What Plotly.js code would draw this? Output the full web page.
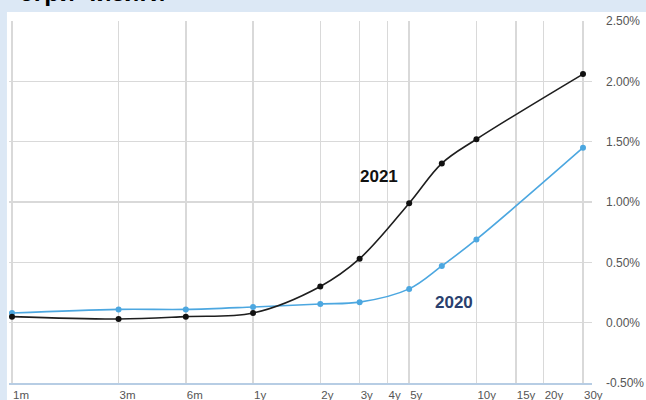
<!DOCTYPE html>
<html>
<head>
<meta charset="utf-8">
<script src="https://cdn.plot.ly/plotly-3.0.1.min.js"></script>
<style>html,body{margin:0;padding:0;background:#dce8f5;}#chart{width:646px;height:400px;}</style>
</head>
<body>
<div id="chart"></div>
<script>
// maturities in months
const maturities = [1, 3, 6, 12, 24, 36, 60, 84, 120, 360];
const yields2021 = [0.05, 0.03, 0.05, 0.08, 0.30, 0.53, 0.99, 1.32, 1.52, 2.06];
const yields2020 = [0.08, 0.11, 0.11, 0.13, 0.155, 0.17, 0.28, 0.47, 0.69, 1.45];
const tickMonths = [1, 3, 6, 12, 24, 36, 48, 60, 120, 180, 240, 360];
const tickLabels = ['1m', '3m', '6m', '1y', '2y', '3y', '4y', '5y', '10y', '15y', '20y', '30y'];
const yTicks = [-0.5, 0, 0.5, 1.0, 1.5, 2.0, 2.5];
const yTickLabels = ['-0.50%', '0.00%', '0.50%', '1.00%', '1.50%', '2.00%', '2.50%'];

const sans = '"Liberation Sans", Arial, sans-serif';

const traces = [
  {
    x: maturities, y: yields2020, type: 'scatter', mode: 'lines+markers', name: '2020',
    line: {color: '#4ca7e0', width: 1.6, shape: 'spline', smoothing: 1},
    marker: {color: '#4ca7e0', size: 6}
  },
  {
    x: maturities, y: yields2021, type: 'scatter', mode: 'lines+markers', name: '2021',
    line: {color: '#1e1e1e', width: 1.6, shape: 'spline', smoothing: 1},
    marker: {color: '#111111', size: 6}
  }
];

const layout = {
  width: 646, height: 400,
  margin: {l: 9, r: 54, t: 21, b: 17},
  paper_bgcolor: '#dce8f5',
  plot_bgcolor: '#ffffff',
  showlegend: false,
  xaxis: {
    type: 'log',
    range: [-0.0134, 2.5966],
    tickvals: tickMonths, ticktext: tickLabels,
    tickangle: 0,
    showgrid: true, gridcolor: '#d9d9d9', gridwidth: 1.5,
    zeroline: false,
    showline: true, linecolor: '#b7cde4', linewidth: 2,
    ticks: '',
    ticklabelposition: 'outside right',
    ticklabelstandoff: 0,
    tickfont: {family: sans, size: 11.5, color: '#555555'},
    fixedrange: true
  },
  yaxis: {
    side: 'right',
    range: [-0.5, 2.5],
    tickvals: yTicks, ticktext: yTickLabels,
    showgrid: true, gridcolor: '#d9d9d9', gridwidth: 1.5,
    zeroline: false, showline: false,
    ticks: '',
    ticklabelstandoff: 13,
    tickfont: {family: sans, size: 12, color: '#555555'},
    fixedrange: true
  },
  shapes: [
    {type: 'rect', xref: 'paper', yref: 'paper', layer: 'below',
     x0: -0.0035, x1: 1.1, y0: -0.06, y1: 1.0249,
     fillcolor: '#ffffff', line: {width: 0}}
  ],
  annotations: [
    {xref: 'paper', yref: 'paper', x: 0.0155, y: 1.08, xanchor: 'left', yanchor: 'middle',
     text: 'эгри чизиги', showarrow: false,
     font: {family: sans, size: 25, color: '#000000', weight: 'bold'}},
    {x: Math.log10(44), y: 1.21, text: '<b>2021</b>', showarrow: false,
     font: {family: sans, size: 17, color: '#111111'}},
    {x: Math.log10(95), y: 0.17, text: '<b>2020</b>', showarrow: false,
     font: {family: sans, size: 17, color: '#2a3f6e'}}
  ]
};

Plotly.newPlot('chart', traces, layout, {displayModeBar: false, staticPlot: true});
</script>
</body>
</html>
